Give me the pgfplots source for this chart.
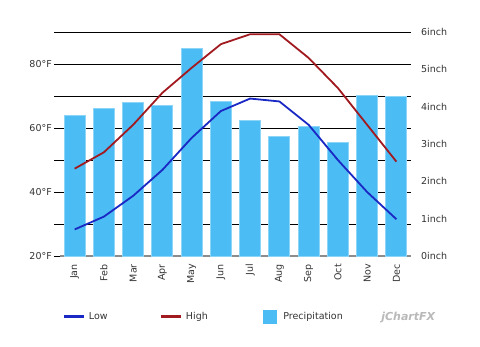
\documentclass[border=0pt]{standalone}
\usepackage{fontspec}
\setmainfont{DejaVu Sans}
\usepackage{pgfplots}
\pgfplotsset{compat=1.18}
\definecolor{barc}{HTML}{4CBCF4}
\definecolor{barb}{HTML}{8CD4F8}
\definecolor{lowc}{HTML}{1A28C4}
\definecolor{highc}{HTML}{A01A20}
\definecolor{txt}{HTML}{333333}
\definecolor{axg}{HTML}{8C8C8C}
\begin{document}
\fontsize{9.5}{11}\selectfont
\begin{tikzpicture}
\useasboundingbox (0,0) rectangle (480pt,346pt);
\pgfplotsset{base/.style={scale only axis, width=351pt, height=224pt,
  at={(60pt,90pt)}, anchor=south west, xmin=-0.5, xmax=11.5,
  /pgf/number format/assume math mode=true,
  tick label style={text=txt, font=\fontsize{9.5}{11}\selectfont}}}
% grid and left axis
\begin{axis}[base, ymin=20, ymax=90, ytick={20,30,...,90},
  yticklabels={20°F,,40°F,,60°F,,80°F,},
  ymajorgrids, grid style={black, line width=0.8pt},
  axis line style={draw=none}, xtick=\empty, ytick pos=left,
  tick align=outside, major tick length=6pt,
  ytick style={black, line width=0.8pt},
  yticklabel style={inner sep=0pt, xshift=-2pt}]
\addplot[draw=none] coordinates {(0,20)};
\end{axis}
% bars, right axis
\begin{axis}[base, ymin=0, ymax=6, ytick={0,1,...,6},
  yticklabels={0inch,1inch,2inch,3inch,4inch,5inch,6inch},
  axis x line*=bottom, axis y line*=right,
  x axis line style={axg, line width=2.5pt, -},
  y axis line style={draw=none},
  xtick={0,...,11},
  xticklabels={Jan,Feb,Mar,Apr,May,Jun,Jul,Aug,Sep,Oct,Nov,Dec},
  xticklabel style={rotate=90, anchor=east, inner sep=0pt},
  xticklabel shift=8pt,
  yticklabel style={anchor=west, inner sep=0pt},
  yticklabel shift=10pt,
  tick style={draw=none}]
\addplot[ybar, bar width=21pt, fill=barc, draw=barb, line width=0.8pt]
  coordinates {(0,3.76) (1,3.96) (2,4.12) (3,4.04) (4,5.55) (5,4.15)
               (6,3.64) (7,3.21) (8,3.46) (9,3.05) (10,4.29) (11,4.27)};
\end{axis}
% lines
\begin{axis}[base, ymin=20, ymax=90, hide axis,
  legend columns=3,
  legend style={at={(0.0085,-0.2723)}, anchor=west, draw=none, fill=none,
    inner sep=0pt, outer sep=0pt,
    nodes={inner sep=0pt, text width=71pt, align=left, text=txt,
      font=\fontsize{9.5}{11}\selectfont},
    /tikz/every odd column/.style={column sep=3pt}},
  legend cell align=left]
\addplot[lowc, line width=1.8pt,
  legend image code/.code={\draw[line width=3pt] (0pt,0pt) -- (20pt,0pt);}]
  coordinates {(0,28.3) (1,32.3) (2,38.8) (3,46.9) (4,56.9) (5,65.3)
               (6,69.2) (7,68.3) (8,61.0) (9,50.0) (10,40.0) (11,31.5)};
\addplot[highc, line width=1.8pt,
  legend image code/.code={\draw[line width=3pt] (0pt,0pt) -- (20pt,0pt);}]
  coordinates {(0,47.3) (1,52.4) (2,61.0) (3,71.0) (4,78.8) (5,86.2)
               (6,89.3) (7,89.3) (8,81.9) (9,72.5) (10,61.0) (11,49.5)};
\addlegendimage{legend image code/.code={\path (0pt,0pt); \fill[barc] (6pt,-6.5pt) rectangle (19pt,6.5pt); \path (23pt,0pt);}}
\legend{Low,High,Precipitation}
\end{axis}
\node[anchor=west, text=gray!55, font=\fontsize{11}{13}\selectfont\itshape\bfseries] at (378pt,28pt) {jChartFX};
\end{tikzpicture}
\end{document}
